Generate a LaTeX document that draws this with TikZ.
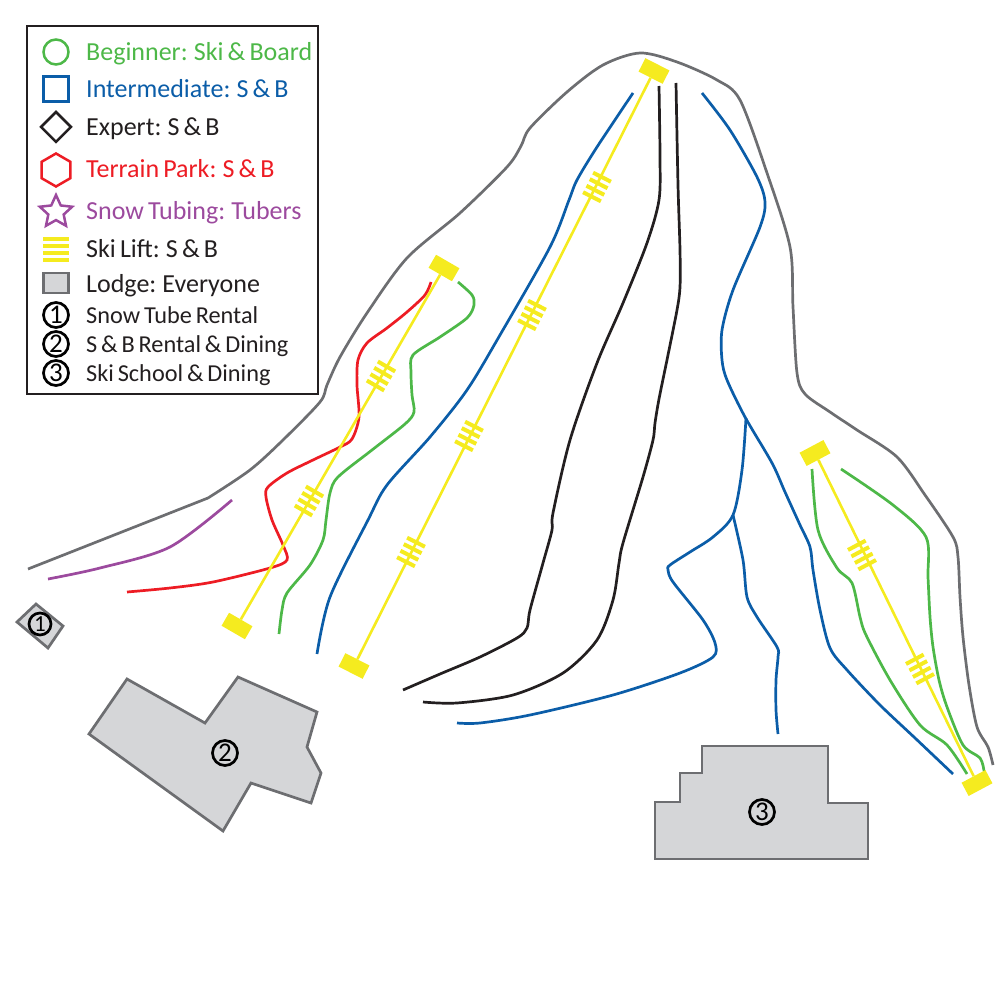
\documentclass[tikz,border=0pt]{standalone}
\usepackage{fontspec}
\setmainfont[WordSpace=0.7]{Carlito}
\usetikzlibrary{shapes.geometric}
\definecolor{runGreen}{HTML}{4DB848}
\definecolor{runBlue}{HTML}{0B5DA8}
\definecolor{runRed}{HTML}{ED1C24}
\definecolor{runPurple}{HTML}{9C4A9E}
\definecolor{runBlack}{HTML}{231F20}
\definecolor{liftYellow}{HTML}{F5EB1F}
\definecolor{edgeGray}{HTML}{6D6E71}
\definecolor{lodgeGray}{HTML}{D5D6D8}
\tikzset{
    run/.style={line width=2.7pt, line cap=butt},
    lodge/.style={draw=edgeGray, fill=lodgeGray, line width=2.7pt, line join=miter},
    liftend/.style={fill=liftYellow, minimum width=27pt, minimum height=15pt, inner sep=0pt},
    cable/.style={draw=liftYellow, line width=2.6pt},
    num/.style={circle, draw=black, line width=2.7pt, minimum size=25pt, inner sep=0pt, font=\fontsize{27}{27}\selectfont},
    legicon/.style={line width=2.5pt, inner sep=0pt},
    legtext/.style={anchor=base west, inner sep=0pt},
    pylon/.pic={
        \foreach \d in {-11,-3.7,3.7,11}{
            \draw[liftYellow, line width=4pt] (-10,\d)--(10,\d);
        }
    }
}
\begin{document}
\begin{tikzpicture}[x=1pt,y=-1pt]
    \useasboundingbox (0,0) rectangle (1000,1000);
    % boundary of the ski area
    \draw[run, edgeGray] (28,569)--(208,498) plot[smooth, tension=0.5] coordinates {(208,498) (250,470) (283,440) (320,402) (327,385) (340,357) (367,313) (407,258) (460,213) (507,167) (521,146) (530,128) (567,92) (603,65) (640,53) (677,62) (717,80) (740,100) (767,173) (790,247) (793,307) (797,373) (805,394) (830,412) (857,430) (897,457) (925,495) (953,537) (958,557) (960,597) (963,637) (969,685) (977,727) (988,747) (993,765)};
    % runs
    \draw[run, runPurple] plot[smooth, tension=0.5] coordinates {(48,579) (100,568) (170,547) (232,500)};
    \draw[run, runRed] plot[smooth, tension=0.5] coordinates {(431,282) (425,295) (407,312) (387,328) (367,343) (358,360) (357,385) (359,417) (352,439) (340,447) (313,460) (287,473) (268,487) (266,497) (272,520) (283,545) (287,560) (270,568) (213,582) (170,588) (127,592)};
    \draw[run, runGreen] plot[smooth, tension=0.5] coordinates {(458,282) (472,295) (474,305) (467,318) (440,337) (413,355) (411,372) (412,395) (414,412) (405,424) (372,450) (338,477) (330,493) (326,520) (323,540) (310,565) (287,593) (282,610) (279,634)};
    \draw[run, runBlue] plot[smooth, tension=0.5] coordinates {(633,93) (597,147) (577,180) (569,200) (550,247) (500,335) (467,390) (430,437) (387,485) (368,520) (330,597) (317,654)};
    \draw[run, runBlack] plot[smooth, tension=0.5] coordinates {(659,86) (660,157) (659,200) (647,243) (623,303) (597,363) (570,440) (553,513) (552,530) (543,563) (530,610) (527,628) (517,638) (480,657) (440,674) (403,690)};
    \draw[run, runBlack] plot[smooth, tension=0.5] coordinates {(676,83) (678,185) (680,250) (680,287) (677,310) (668,355) (659,399) (655,423) (653,440) (643,477) (623,543) (619,563) (613,600) (597,640) (563,673) (513,695) (457,703) (423,702)};
    \draw[run, runBlue] plot[smooth, tension=0.5] coordinates {(702,93) (730,130) (757,177) (765,202) (760,227) (733,290) (722,330) (722,360) (727,380) (745,417) (772,463) (785,492) (800,525) (810,547) (813,570) (820,610) (830,648) (847,670) (880,705) (915,738) (953,774)};
    \draw[run, runBlue] plot[smooth, tension=0.5] coordinates {(746,418) (742,470) (733,515) (713,537) (690,552) (670,565) (668,570) (673,582) (703,620) (715,643) (713,657) (680,673) (613,695) (530,715) (480,723) (457,723)};
    \draw[run, runBlue] plot[smooth, tension=0.5] coordinates {(733,515) (743,560) (747,597) (757,617) (777,647) (778,657) (776,680) (776,710) (778,734)};
    \draw[run, runGreen] plot[smooth, tension=0.5] coordinates {(812,469) (818,530) (837,568) (852,583) (860,617) (866,635) (890,680) (920,725) (947,745) (967,774)};
    \draw[run, runGreen] plot[smooth, tension=0.5] coordinates {(841,469) (893,505) (926,537) (928,577) (930,617) (933,647) (939,680) (947,707) (963,745) (980,758) (984,771)};
    % lifts
    \node[liftend, rotate=-30] (liftAbot) at (237,626) {};
    \node[liftend, rotate=-30] (liftAtop) at (444,268) {};
    \draw[cable] (liftAbot)--(liftAtop);
    \foreach \x/\y in {381/376,309/501}{
        \pic[rotate=-30] at (\x,\y) {pylon};
    }
    \node[liftend, rotate=-27] (liftBbot) at (354,666) {};
    \node[liftend, rotate=-27] (liftBtop) at (654,71) {};
    \draw[cable] (liftBbot)--(liftBtop);
    \foreach \x/\y in {597/187,532/315,469/436,411/552}{
        \pic[rotate=-27] at (\x,\y) {pylon};
    }
    \node[liftend, rotate=28] (liftCtop) at (815,453) {};
    \node[liftend, rotate=28] (liftCbot) at (977,783) {};
    \draw[cable] (liftCtop)--(liftCbot);
    \foreach \x/\y in {862/555,920/669}{
        \pic[rotate=28] at (\x,\y) {pylon};
    }
    % lodges
    \draw[lodge] (36,604)--(63,626)--(48,648)--(17,622)--cycle;
    \draw[lodge] (127,679)--(205,723)--(238,677)--(317,712)--(307,747)--(321,773)--(311,803)--(251,783)--(223,831)--(89,734)--cycle;
    \draw[lodge] (702,746)--(828,746)--(828,803)--(868,803)--(868,859)--(655,859)--(655,802)--(680,802)--(680,773)--(702,773)--cycle;
    \node[num, minimum size=22pt, font=\fontsize{23}{23}\selectfont] (numA) at (40,624) {1};
    \node[num] (numB) at (225,753) {2};
    \node[num] (numC) at (762,812) {3};
    % legend
    \draw[line width=2.8pt, draw=runBlack] (27,26) rectangle (318,394);
    \node[legicon, draw=runGreen, circle, minimum size=25pt] (iconGreen) at (56,52) {};
    \node[legicon, draw=runBlue, rectangle, minimum size=25pt] (iconBlue) at (56,89) {};
    \node[legicon, draw=runBlack, diamond, aspect=1, minimum size=31pt] (iconBlack) at (56,127) {};
    \node[legicon, draw=runRed, regular polygon, regular polygon sides=6, shape border rotate=30, minimum size=33pt] (iconRed) at (56,170) {};
    \node[legicon, draw=runPurple, star, star points=5, star point ratio=2.1, minimum size=34pt] (iconPurple) at (56,212) {};
    \foreach \y in {239,246,253,260}{
        \draw[liftYellow, line width=4pt] (43,\y)--(69,\y);
    }
    \node[lodge, minimum width=25pt, minimum height=20pt, inner sep=0pt] (iconLodge) at (56,283) {};
    \foreach \y/\c/\t in {61/runGreen/Beginner: Ski \& Board,98/runBlue/Intermediate: S \& B,136/runBlack/Expert: S \& B,178/runRed/Terrain Park: S \& B,220/runPurple/Snow Tubing: Tubers,257/runBlack/Ski Lift: S \& B,292/runBlack/Lodge: Everyone}{
        \node[legtext, text=\c, font=\fontsize{26}{26}\selectfont] (leg\y) at (86,\y) {\t};
    }
    \foreach \y/\n/\t in {315/1/Snow Tube Rental,344/2/S \& B Rental \& Dining,373/3/Ski School \& Dining}{
        \node[num] (key\n) at (56,\y) {\n};
        \node[legtext, text=runBlack, font=\fontsize{24.3}{24.3}\selectfont] (leg\n) at (86,\y+8) {\t};
    }
\end{tikzpicture}
\end{document}
